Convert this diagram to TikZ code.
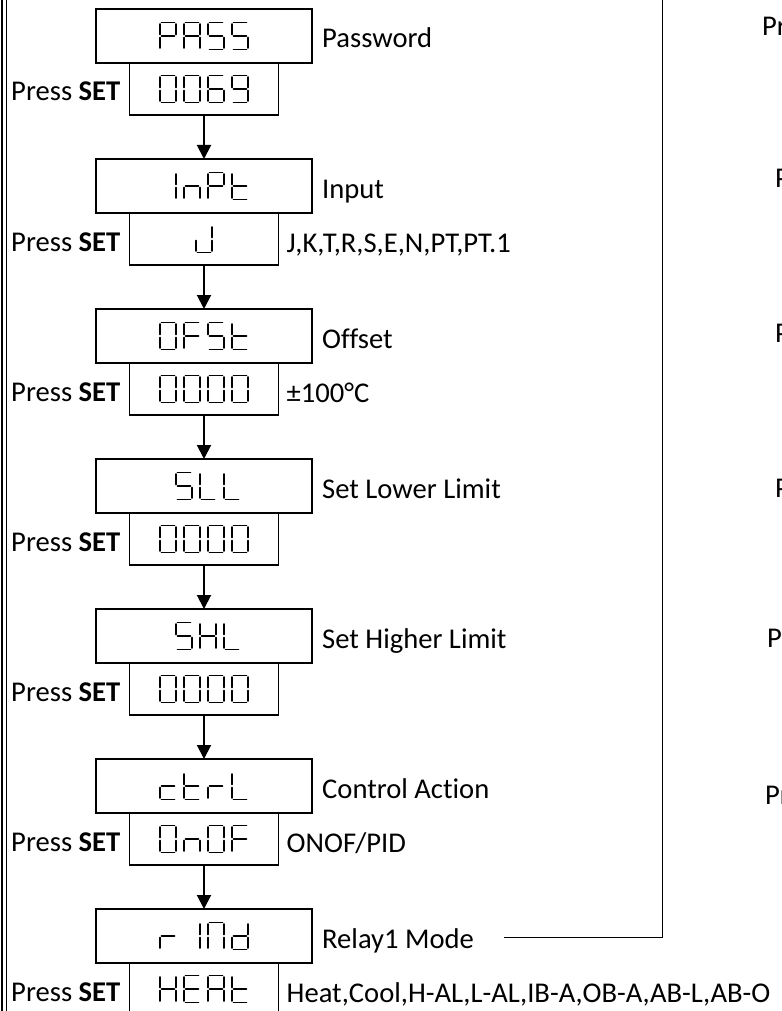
\documentclass[tikz,border=0pt]{standalone}
\usepackage{fontspec}
\setmainfont{Carlito}[Ligatures={NoCommon}]
\usepackage{tikz}
\usetikzlibrary{arrows.meta, positioning, calc}
\tikzstyle{dispbox} = [rectangle, draw=black, line width=1.8pt, minimum width=216pt, minimum height=54pt, inner sep=0pt, outer sep=0pt]
\tikzstyle{valbox} = [rectangle, draw=black, line width=1.8pt, minimum width=149pt, minimum height=52pt, inner sep=0pt, outer sep=0pt]
\tikzstyle{lbl} = [inner sep=0pt, text height=18pt, text depth=0pt, font=\fontsize{28.6pt}{34pt}\selectfont]
\tikzstyle{arrow} = [line width=2pt, -{Triangle[width=14pt,length=14pt]}]
\tikzstyle{segline} = [line width=1.9pt, line cap=round, black]
\tikzstyle{thinline} = [line width=1pt]

% seven segment glyphs
\newcommand{\segdrawa}{\draw[segline] (-6.5,13.5) -- (6.5,13.5);}
\newcommand{\segdrawb}{\draw[segline] (8,12) -- (8,1.5);}
\newcommand{\segdrawc}{\draw[segline] (8,-1.5) -- (8,-12);}
\newcommand{\segdrawd}{\draw[segline] (-6.5,-13.5) -- (6.5,-13.5);}
\newcommand{\segdrawe}{\draw[segline] (-8,-1.5) -- (-8,-12);}
\newcommand{\segdrawf}{\draw[segline] (-8,12) -- (-8,1.5);}
\newcommand{\segdrawg}{\draw[segline] (-6.5,0) -- (6.5,0);}
\newcommand{\defseg}[2]{\expandafter\def\csname segcode#1\endcsname{#2}}
\defseg{P}{a,b,e,f,g}
\defseg{A}{a,b,c,e,f,g}
\defseg{S}{a,c,d,f,g}
\defseg{0}{a,b,c,d,e,f}
\defseg{6}{a,c,d,e,f,g}
\defseg{9}{a,b,c,d,f,g}
\defseg{I}{b,c}
\defseg{n}{c,e,g}
\defseg{t}{d,e,f,g}
\defseg{J}{b,c,d,e}
\defseg{O}{a,b,c,d,e,f}
\defseg{F}{a,e,f,g}
\defseg{L}{d,e,f}
\defseg{H}{b,c,e,f,g}
\defseg{c}{d,e,g}
\defseg{r}{e,g}
\defseg{1}{b,c}
\defseg{N}{a,b,c,e,f}
\defseg{d}{b,c,d,e,g}
\defseg{E}{a,d,e,f,g}
\newcommand{\segtext}[3][0]{%
  \foreach \ch [count=\i] in {#3} {\xdef\segcount{\i}}
  \foreach \ch [count=\i] in {#3} {
    \begin{scope}[shift={($(#2.center)+({(\i-(\segcount+1)/2)*24+#1},0)$)}]
      \edef\segcodes{\csname segcode\ch\endcsname}
      \foreach \sg in \segcodes {\csname segdraw\sg\endcsname}
    \end{scope}
  }
}

\begin{document}
\begin{tikzpicture}[x=1pt, y=1pt, node distance=44pt]
  \clip (0,0) rectangle (781,-1011);
  % left border
  \draw[line width=1.5pt] (2,5) -- (2,-1020);
  \draw[line width=1.5pt] (6.5,5) -- (6.5,-1020);

  % display boxes
  \node[dispbox] (pass) at (204,-36) {};
  \node[valbox, below=0pt of pass] (passval) {};
  \node[dispbox, below=of passval] (inpt) {};
  \node[valbox, below=0pt of inpt] (inptval) {};
  \node[dispbox, below=of inptval] (ofst) {};
  \node[valbox, below=0pt of ofst] (ofstval) {};
  \node[dispbox, below=of ofstval] (sll) {};
  \node[valbox, below=0pt of sll] (sllval) {};
  \node[dispbox, below=of sllval] (shl) {};
  \node[valbox, below=0pt of shl] (shlval) {};
  \node[dispbox, below=of shlval] (ctrl) {};
  \node[valbox, below=0pt of ctrl] (ctrlval) {};
  \node[dispbox, below=of ctrlval] (rmod) {};
  \node[valbox, below=0pt of rmod] (rmodval) {};

  % display texts
  \segtext{pass}{P,A,S,S}
  \segtext{passval}{0,0,6,9}
  \segtext{inpt}{I,n,P,t}
  \segtext{inptval}{J}
  \segtext{ofst}{O,F,S,t}
  \segtext{ofstval}{0,0,0,0}
  \segtext[4]{sll}{S,L,L}
  \segtext{sllval}{0,0,0,0}
  \segtext[4]{shl}{S,H,L}
  \segtext{shlval}{0,0,0,0}
  \segtext{ctrl}{c,t,r,L}
  \segtext{ctrlval}{O,n,O,F}
  \segtext{rmod}{r,1,N,d}
  \segtext{rmodval}{H,E,A,t}

  % arrows
  \draw[arrow] (passval) -- (inpt);
  \draw[arrow] (inptval) -- (ofst);
  \draw[arrow] (ofstval) -- (sll);
  \draw[arrow] (sllval) -- (shl);
  \draw[arrow] (shlval) -- (ctrl);
  \draw[arrow] (ctrlval) -- (rmod);

  % names
  \node[lbl, right=10pt of pass, yshift=-3pt] (passlbl) {Password};
  \node[lbl, right=10pt of inpt, yshift=-3pt] (inptlbl) {Input};
  \node[lbl, right=10pt of ofst, yshift=-3pt] (ofstlbl) {Offset};
  \node[lbl, right=10pt of sll, yshift=-3pt] (slllbl) {Set Lower Limit};
  \node[lbl, right=10pt of shl, yshift=-3pt] (shllbl) {Set Higher Limit};
  \node[lbl, right=10pt of ctrl, yshift=-3pt] (ctrllbl) {Control Action};
  \node[lbl, right=10pt of rmod, yshift=-3pt] (rmodlbl) {Relay1 Mode};

  % ranges
  \node[lbl, right=8pt of inptval, yshift=-4pt] (inptopt) {J,K,T,R,S,E,N,PT,PT.1};
  \node[lbl, right=8pt of ofstval, yshift=-4pt] (ofstopt) {±100°C};
  \node[lbl, right=8pt of ctrlval, yshift=-4pt] (ctrlopt) {ONOF/PID};
  \node[lbl, right=8pt of rmodval, yshift=-4pt] (rmodopt) {Heat,Cool,H-AL,L-AL,IB-A,OB-A,AB-L,AB-O};

  % press set
  \node[lbl, left=9pt of passval, yshift=-3pt] (setA) {Press \textbf{SET}};
  \node[lbl, left=9pt of inptval, yshift=-3pt] (setB) {Press \textbf{SET}};
  \node[lbl, left=9pt of ofstval, yshift=-3pt] (setC) {Press \textbf{SET}};
  \node[lbl, left=9pt of sllval, yshift=-3pt] (setD) {Press \textbf{SET}};
  \node[lbl, left=9pt of shlval, yshift=-3pt] (setE) {Press \textbf{SET}};
  \node[lbl, left=9pt of ctrlval, yshift=-3pt] (setF) {Press \textbf{SET}};
  \node[lbl, left=9pt of rmodval, yshift=-3pt] (setG) {Press \textbf{SET}};

  % next column (cut at the edge)
  \node[lbl, anchor=west] (nextA) at (762,-27) {Press \textbf{SET}};
  \node[lbl, anchor=west] (nextB) at (775,-178) {Press \textbf{SET}};
  \node[lbl, anchor=west] (nextC) at (775,-333) {Press \textbf{SET}};
  \node[lbl, anchor=west] (nextD) at (775,-488) {Press \textbf{SET}};
  \node[lbl, anchor=west] (nextE) at (767,-638) {Press \textbf{SET}};
  \node[lbl, anchor=west] (nextF) at (765,-795) {Press \textbf{SET}};

  \coordinate (topend) at (662,5);
  \draw[thinline] ([xshift=30pt,yshift=2pt]rmodlbl.east) -| (topend);
\end{tikzpicture}
\end{document}
